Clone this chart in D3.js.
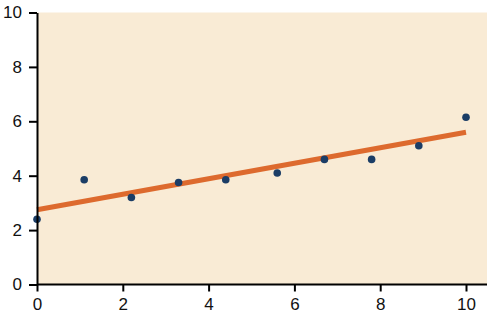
<!DOCTYPE html>
<html lang="en">
<head>
    <meta charset="UTF-8">
    <title>Scatter with trend line</title>
    <script src="https://d3js.org/d3.v7.min.js"></script>
    <style>
        body { margin: 0; background: #fff; }
        .axis text { font-family: "Liberation Sans", Arial, sans-serif; font-size: 17px; fill: #111; }
        .axis path, .axis line { stroke: #000; stroke-width: 2; }
    </style>
</head>
<body>
<svg id="main" width="487" height="323"></svg>

<script>
    // data
    let xs = [0, 1.1, 2.2, 3.3, 4.4, 5.6, 6.7, 7.8, 8.9, 10];
    let ys = [2.4, 3.85, 3.2, 3.75, 3.85, 4.1, 4.6, 4.6, 5.1, 6.15];
    let fitX = [0, 10];
    let fitY = [2.75, 5.6];
    let ticks = [0, 2, 4, 6, 8, 10];

    let padLeft = 37, padRight = 466, padTop = 12.5, padBottom = 284.5;

    let x = d3.scaleLinear().domain([0, 10]).range([padLeft, padRight]);
    let y = d3.scaleLinear().domain([0, 10]).range([padBottom, padTop]);

    let svg = d3.select('svg#main');

    // background panel
    svg.append('rect')
        .attr('x', padLeft)
        .attr('y', padTop)
        .attr('width', 487 - padLeft)
        .attr('height', padBottom - padTop)
        .attr('fill', '#f9ebd5');

    // trend line
    let line = d3.line()
        .x(function(d) { return x(d[0]); })
        .y(function(d) { return y(d[1]); });

    svg.append('path')
        .datum(fitX.map(function(v, i) { return [v, fitY[i]]; }))
        .attr('d', line)
        .attr('fill', 'none')
        .attr('stroke', '#dd6a2e')
        .attr('stroke-width', 5);

    // points
    svg.selectAll('circle')
        .data(xs.map(function(v, i) { return [v, ys[i]]; }))
        .enter()
        .append('circle')
        .attr('cx', function(d) { return x(d[0]); })
        .attr('cy', function(d) { return y(d[1]); })
        .attr('r', 3.8)
        .attr('fill', '#1b3d66');

    // axes
    svg.append('g')
        .attr('class', 'axis')
        .attr('transform', 'translate(0,' + padBottom + ')')
        .call(d3.axisBottom(x).tickValues(ticks).tickSize(7).tickPadding(6).tickSizeOuter(0))
        .call(function(g) { g.select('.domain').attr('d', 'M' + padLeft + ',0H487'); });

    svg.append('g')
        .attr('class', 'axis')
        .attr('transform', 'translate(' + padLeft + ',0)')
        .call(d3.axisLeft(y).tickValues(ticks).tickSize(8).tickPadding(7).tickSizeOuter(0));
</script>
</body>
</html>
